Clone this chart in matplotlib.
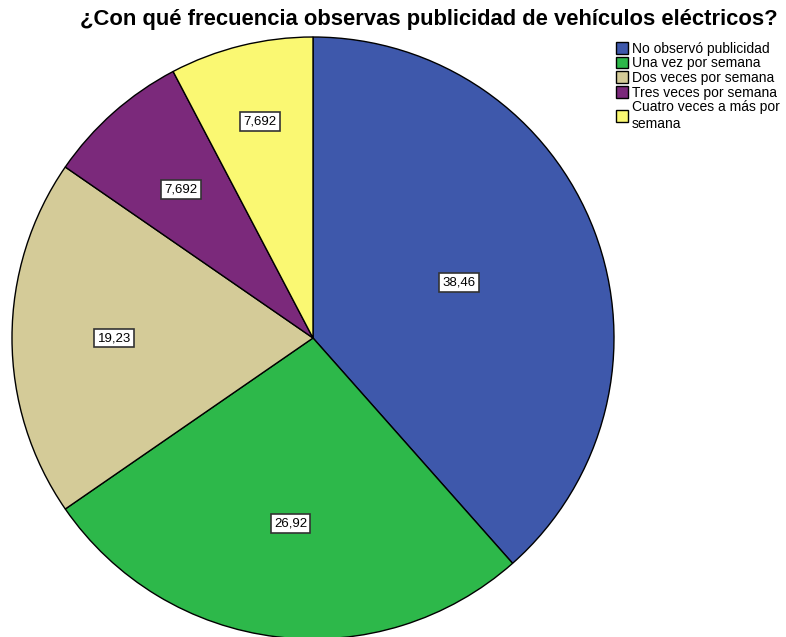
import matplotlib.pyplot as plt
import numpy as np

plt.rcParams['font.family'] = ['Liberation Sans', 'DejaVu Sans']

categories = ['No observó publicidad', 'Una vez por semana', 'Dos veces por semana',
              'Tres veces por semana', 'Cuatro veces a más por\nsemana']
values = [38.46, 26.92, 19.23, 7.692, 7.692]
value_labels = ['38,46', '26,92', '19,23', '7,692', '7,692']
colors = ['#3E58AB', '#2DB84A', '#D4CB98', '#7B297B', '#FAF872']
label_dist = [0.52, 0.62, 0.66, 0.66, 0.74]

fig = plt.figure(figsize=(7.86, 6.37), dpi=100)
ax = fig.add_axes([0, 0, 1, 1])

cx, cy, r = 313, 637 - 338, 301
wedges, _ = ax.pie(values, colors=colors, startangle=90, counterclock=False,
                   center=(cx, cy), radius=r, frame=True,
                   wedgeprops=dict(edgecolor='black', linewidth=1))

for w, lab, d in zip(wedges, value_labels, label_dist):
    mid = np.deg2rad((w.theta1 + w.theta2) / 2)
    ax.text(cx + d * r * np.cos(mid), cy + d * r * np.sin(mid), lab,
            ha='center', va='center', fontsize=9.5,
            bbox=dict(boxstyle='square,pad=0.25', fc='white', ec='#333333', lw=1.2))

ax.set_xlim(0, 786)
ax.set_ylim(0, 637)
ax.axis('off')

fig.text(429, 637 - 20, '¿Con qué frecuencia observas publicidad de vehículos eléctricos?',
         transform=None, ha='center', va='center', fontsize=15.8, fontweight='bold')

leg = fig.legend(wedges, categories, loc='upper left', bbox_to_anchor=(610 / 786, 1 - 36 / 637),
                 frameon=False, fontsize=10, handlelength=0.9, handleheight=0.9,
                 handletextpad=0.25, labelspacing=0.05, borderaxespad=0)

fig.savefig('out.png', dpi=100)
